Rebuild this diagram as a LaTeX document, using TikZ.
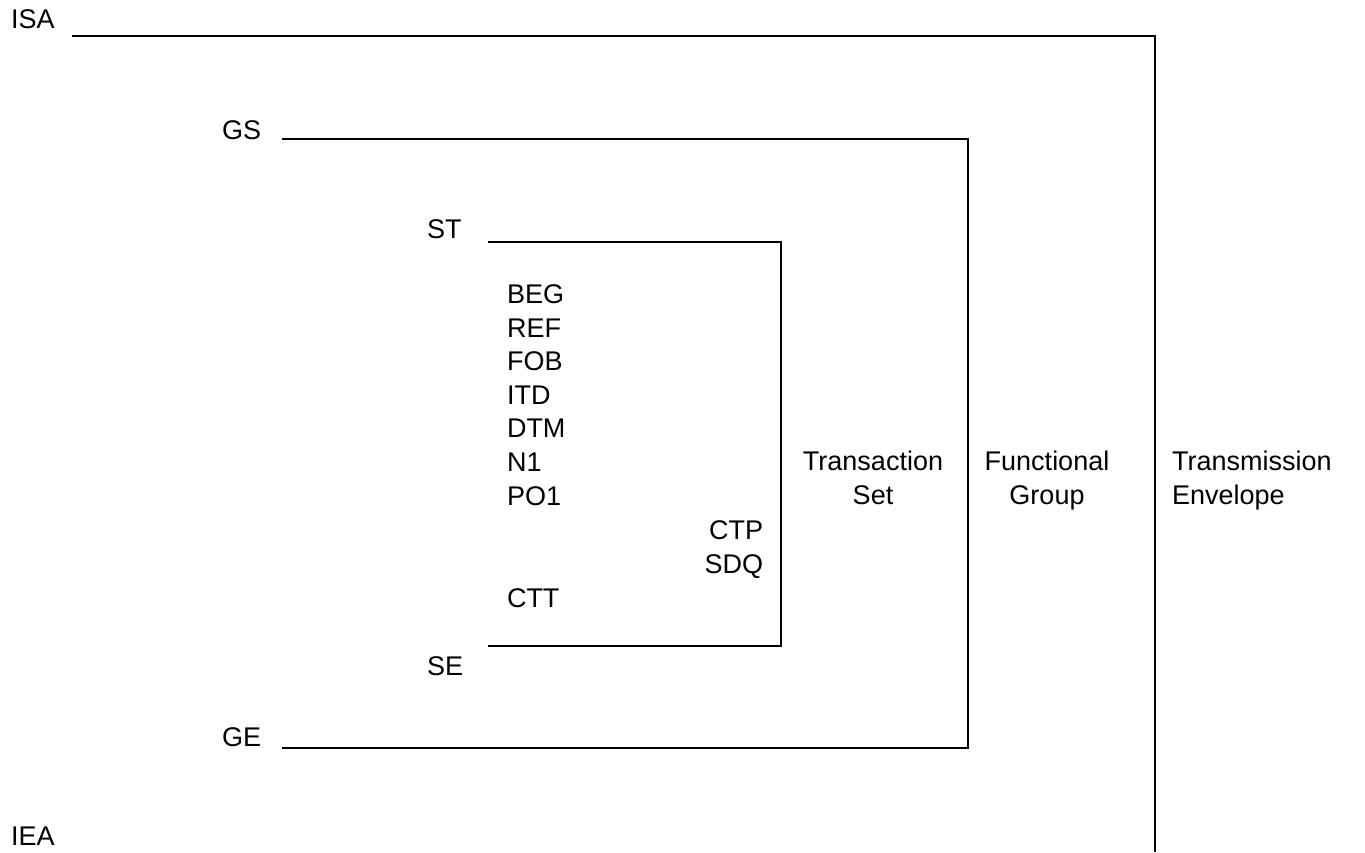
\documentclass[tikz,border=0pt]{standalone}
\usepackage{fontspec}
\setmainfont{Liberation Sans}
\begin{document}
\begin{tikzpicture}[x=1pt,y=-1pt,
  lbl/.style={inner sep=0pt,outer sep=0pt,font=\fontsize{27}{33.8}\selectfont},
  lw/.style={lbl,anchor=base west},
  le/.style={lbl,anchor=base east},
  lc/.style={lbl,anchor=base,align=center},
  env/.style={line width=1.7pt,line cap=rect,line join=miter}]
\useasboundingbox (0,0) rectangle (1365,852);
% labels
\node[lw] (isa) at (11,28) {ISA};
\node[lw] (iea) at (11,845) {IEA};
\node[lw] (gs) at (222,139) {GS};
\node[lw] (ge) at (222,746) {GE};
\node[lw] (st) at (427,238) {ST};
\node[lw] (se) at (427,675) {SE};
\node[lw] (beg) at (507,303) {BEG};
\node[lw] (ref) at (507,337) {REF};
\node[lw] (fob) at (507,370) {FOB};
\node[lw] (itd) at (507,404) {ITD};
\node[lw] (dtm) at (507,437) {DTM};
\node[lw] (n1) at (507,471) {N1};
\node[lw] (po1) at (507,505) {PO1};
\node[le] (ctp) at (763,539) {CTP};
\node[le] (sdq) at (763,573) {SDQ};
\node[lw] (ctt) at (507,607) {CTT};
\node[lc] (ts1) at (873,470) {Transaction};
\node[lc] (ts2) at (873,504) {Set};
\node[lc] (fg1) at (1047,470) {Functional};
\node[lc] (fg2) at (1047,504) {Group};
\node[lw] (te1) at (1172,470) {Transmission};
\node[lw] (te2) at (1172,504) {Envelope};
% corners
\coordinate (isaL) at (72,36);
\coordinate (isaR) at (1155,36);
\coordinate (ieaR) at (1155,852);
\coordinate (gsL) at (282,139);
\coordinate (gsR) at (968,139);
\coordinate (geL) at (282,748);
\coordinate (geR) at (968,748);
\coordinate (stL) at (488,242);
\coordinate (stR) at (781,242);
\coordinate (seL) at (488,646);
\coordinate (seR) at (781,646);
\draw[env,line cap=butt] (isaL) -- (isaR) -- (ieaR);
\draw[env,line cap=butt] (gsL) -- (gsR) -- (geR) -- (geL);
\draw[env,line cap=butt] (stL) -- (stR) -- (seR) -- (seL);
\end{tikzpicture}
\end{document}
